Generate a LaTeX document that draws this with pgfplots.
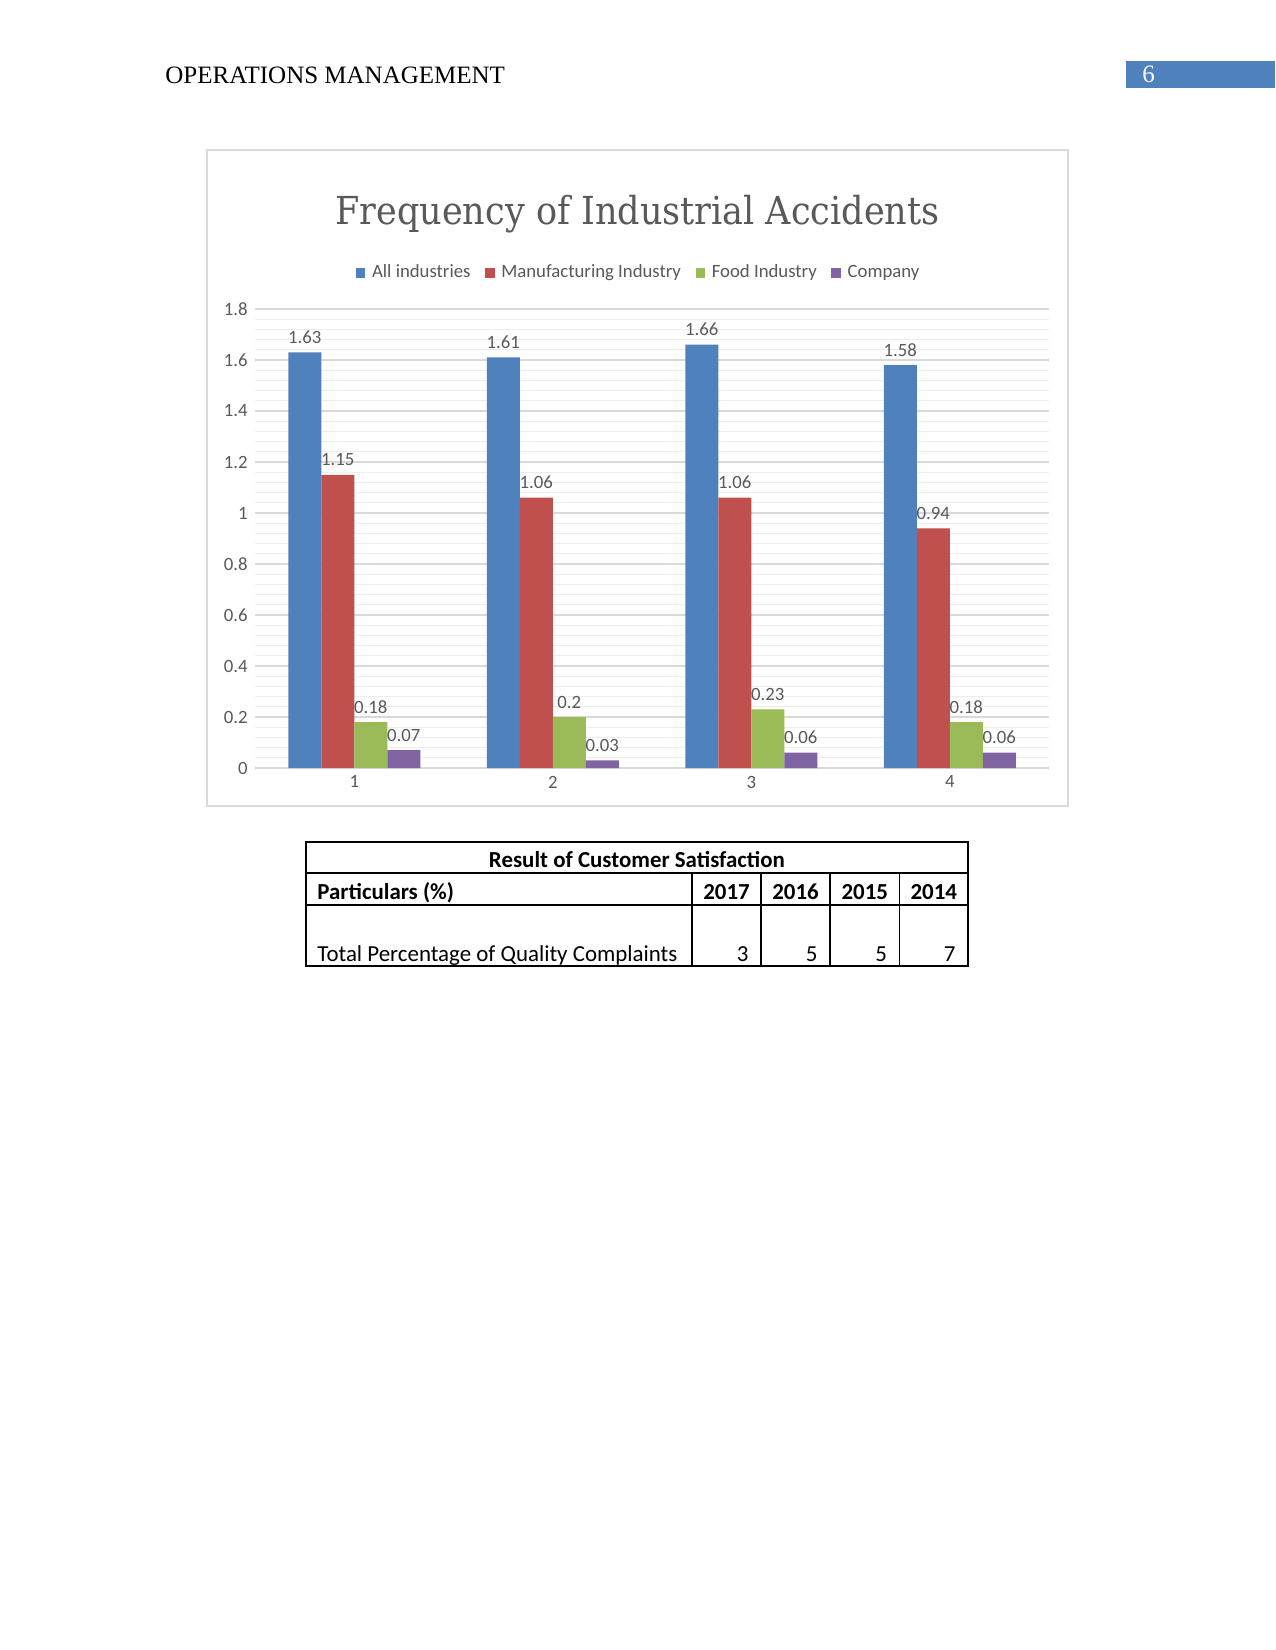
\documentclass[border=0pt]{standalone}
\usepackage{fontspec}
\setmainfont{Carlito}
\newfontfamily\headfont{Liberation Serif}
\newfontfamily\titlefont{DejaVu Serif}
\usepackage{graphicx}
\usepackage{pgfplots}
\pgfplotsset{compat=1.18}

\definecolor{cBlue}{HTML}{4F81BD}
\definecolor{cRed}{HTML}{C0504D}
\definecolor{cGreen}{HTML}{9BBB59}
\definecolor{cPurple}{HTML}{8064A2}
\definecolor{txtgray}{HTML}{595959}
\definecolor{gridmaj}{HTML}{D9D9D9}
\definecolor{gridmin}{HTML}{EDEDED}

\begin{document}
\begin{tikzpicture}
\begin{scope}[x=0.48pt,y=-0.48pt]
\path[use as bounding box, fill=white] (0,0) rectangle (1275,1650);

% page header
\node[anchor=base west, inner sep=0pt] at (165,84) {\headfont\fontsize{12}{14}\selectfont OPERATIONS MANAGEMENT};
\fill[cBlue] (1126,61) rectangle (1275,88);
\node[anchor=base west, inner sep=0pt, text=white] at (1142,83) {\headfont\fontsize{12}{14}\selectfont 6};

% chart frame and title
\draw[gridmaj, line width=0.6pt] (207,150) rectangle (1068,806);
\node[anchor=base, inner sep=0pt, text=txtgray] at (637.5,225)
  {\resizebox{290pt}{\height}{\titlefont\fontsize{18.5}{20}\selectfont Frequency of Industrial Accidents}};

% table
\begin{scope}[line width=0.6pt]
\draw (306,842) rectangle (968,966);
\draw (306,873) -- (968,873);
\draw (306,905) -- (968,905);
\foreach \xx in {692,761,830,899.5} \draw (\xx,873) -- (\xx,966);
\end{scope}
\node[anchor=base, inner sep=0pt] at (637,867) {\fontsize{11}{13}\selectfont\bfseries Result of Customer Satisfaction};
\node[anchor=base west, inner sep=0pt] at (317,899) {\fontsize{11}{13}\selectfont\bfseries Particulars (\%)};
\node[anchor=base, inner sep=0pt] at (726.5,899) {\fontsize{11}{13}\selectfont\bfseries 2017};
\node[anchor=base, inner sep=0pt] at (795.5,899) {\fontsize{11}{13}\selectfont\bfseries 2016};
\node[anchor=base, inner sep=0pt] at (864.75,899) {\fontsize{11}{13}\selectfont\bfseries 2015};
\node[anchor=base, inner sep=0pt] at (933.75,899) {\fontsize{11}{13}\selectfont\bfseries 2014};
\node[anchor=base west, inner sep=0pt] at (317,961) {\fontsize{11}{13}\selectfont Total Percentage of Quality Complaints};
\node[anchor=base east, inner sep=0pt] at (749,961) {\fontsize{11}{13}\selectfont 3};
\node[anchor=base east, inner sep=0pt] at (818,961) {\fontsize{11}{13}\selectfont 5};
\node[anchor=base east, inner sep=0pt] at (887.5,961) {\fontsize{11}{13}\selectfont 5};
\node[anchor=base east, inner sep=0pt] at (956,961) {\fontsize{11}{13}\selectfont 7};
\end{scope}

% chart: plot area from x=255..1049 px, y=309..768 px (1 px = 0.48pt)
\begin{axis}[
  at={(122.4pt,-368.64pt)}, anchor=south west,
  scale only axis, width=381.12pt, height=220.32pt,
  xmin=0.5, xmax=4.5, ymin=0, ymax=1.8,
  ybar=0pt, bar width=15.84pt,
  xtick={1,2,3,4},
  ytick={0,0.2,0.4,0.6,0.8,1,1.2,1.4,1.6,1.8},
  minor y tick num=4,
  ymajorgrids, yminorgrids,
  major grid style={draw=gridmaj, line width=0.6pt},
  minor grid style={draw=gridmin, line width=0.5pt},
  tick style={draw=none},
  separate axis lines,
  axis x line*=bottom, axis y line*=left,
  x axis line style={draw=gridmaj, line width=0.6pt, -},
  y axis line style={draw=none},
  ticklabel style={font=\fontsize{9}{10}\selectfont, text=txtgray},
  xticklabel style={yshift=4pt},
  /pgf/number format/assume math mode=true,
  /pgf/number format/fixed, /pgf/number format/precision=2,
  nodes near coords,
  every node near coord/.append style={font=\fontsize{9}{10}\selectfont, text=txtgray, yshift=0.6pt},
  legend columns=-1,
  legend style={at={(0.4845,1.0790)}, anchor=center, draw=none, fill=none,
    font=\fontsize{9}{10}\selectfont, text=txtgray,
    /tikz/every even column/.append style={column sep=5pt}},
  legend image code/.code={\draw[#1, draw=none] (0pt,-2.3pt) rectangle (4.6pt,2.3pt); \path (5.8pt,0pt);},
  clip=false,
]
\addplot[fill=cBlue, draw=none] coordinates {(1,1.63) (2,1.61) (3,1.66) (4,1.58)};
\addlegendentry{All industries}
\addplot[fill=cRed, draw=none] coordinates {(1,1.15) (2,1.06) (3,1.06) (4,0.94)};
\addlegendentry{Manufacturing Industry}
\addplot[fill=cGreen, draw=none] coordinates {(1,0.18) (2,0.2) (3,0.23) (4,0.18)};
\addlegendentry{Food Industry}
\addplot[fill=cPurple, draw=none] coordinates {(1,0.07) (2,0.03) (3,0.06) (4,0.06)};
\addlegendentry{Company}
\end{axis}
\end{tikzpicture}
\end{document}
